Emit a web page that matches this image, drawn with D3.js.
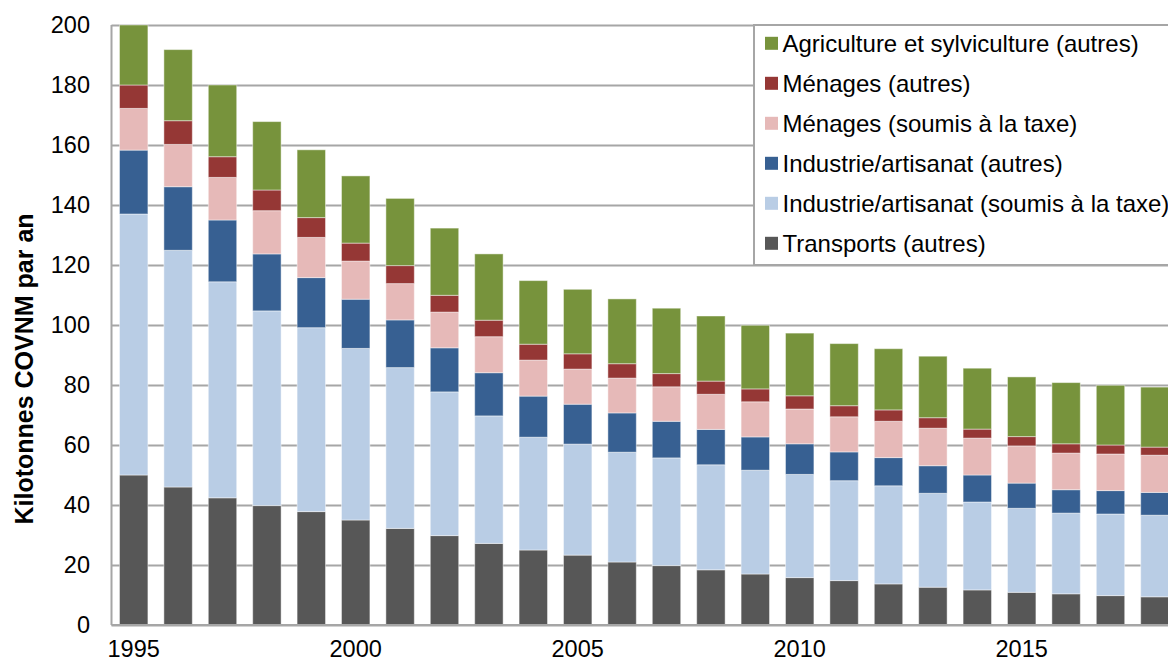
<!DOCTYPE html>
<html>
<head>
<meta charset="utf-8">
<script src="https://cdn.jsdelivr.net/npm/d3@7"></script>
<style>
  html, body { margin: 0; padding: 0; background: #fff; overflow: hidden; }
  svg { display: block; font-family: "Liberation Sans", Arial, sans-serif; }
</style>
</head>
<body>
<svg id="chart"></svg>
<script>
const years = d3.range(1995, 2019);

// kilotonnes COVNM par an, by sector (bottom of the stack first)
const transports = [50, 46, 42.4, 39.8, 37.8, 35, 32.2, 29.8, 27.2, 25, 23.3, 21, 19.8, 18.4, 17, 15.8, 14.8, 13.7, 12.6, 11.7, 10.9, 10.4, 9.8, 9.4];
const industrieTaxe = [87, 78.9, 72, 64.9, 61.3, 57.2, 53.6, 47.9, 42.5, 37.6, 37, 36.6, 35.9, 35, 34.6, 34.4, 33.3, 32.7, 31.3, 29.3, 28, 26.9, 27.2, 27.2];
const industrieAutres = [21.3, 21.2, 20.6, 19, 16.7, 16.4, 15.9, 14.7, 14.4, 13.7, 13.3, 13.1, 12.2, 11.8, 11.1, 10.2, 9.6, 9.4, 9.2, 9, 8.4, 7.8, 7.8, 7.6];
const menagesTaxe = [13.9, 14.1, 14.2, 14.4, 13.4, 12.7, 12.1, 11.9, 12, 12, 11.7, 11.6, 11.5, 11.7, 11.7, 11.6, 11.7, 12.1, 12.5, 12.3, 12.4, 12.2, 12.2, 12.4];
const menagesAutres = [7.8, 7.9, 6.9, 6.9, 6.6, 6, 6, 5.6, 5.5, 5.3, 5.1, 4.8, 4.4, 4.4, 4.3, 4.4, 3.7, 3.8, 3.5, 3, 3.1, 3.1, 3, 2.7];
const agriculture = [20, 23.7, 23.9, 22.8, 22.6, 22.4, 22.4, 22.4, 22.1, 21.2, 21.5, 21.6, 21.8, 21.7, 21.2, 20.9, 20.7, 20.4, 20.5, 20.3, 19.9, 20.4, 19.9, 20];

const seriesNames = [
  "Transports (autres)",
  "Industrie/artisanat (soumis à la taxe)",
  "Industrie/artisanat (autres)",
  "Ménages (soumis à la taxe)",
  "Ménages (autres)",
  "Agriculture et sylviculture (autres)"
];
const seriesValues = [transports, industrieTaxe, industrieAutres, menagesTaxe, menagesAutres, agriculture];
const seriesColors = ["#575757", "#b9cde5", "#376092", "#e6b9b8", "#953735", "#77933c"];

const yTicks = [0, 20, 40, 60, 80, 100, 120, 140, 160, 180, 200];
const xLabelYears = [1995, 2000, 2005, 2010, 2015];
const yTitle = "Kilotonnes COVNM par an";

const W = 1168, H = 663;
const margin = {top: 25, left: 111.5, bottom: 38};
const step = 44.4;

const svg = d3.select("#chart").attr("width", W).attr("height", H);

const x = d3.scaleBand()
  .domain(years)
  .range([margin.left, margin.left + step * years.length])
  .paddingInner(0.36)
  .paddingOuter(0.18);

const y = d3.scaleLinear()
  .domain([0, 200])
  .range([H - margin.bottom, margin.top]);

// gridlines
const grid = svg.append("g")
  .attr("transform", "translate(" + margin.left + ",0)")
  .call(d3.axisLeft(y).tickValues(yTicks).tickSize(-(W - margin.left)).tickFormat(""));
grid.select(".domain").remove();
grid.selectAll("line").attr("stroke", "#a6a6a6").attr("stroke-width", 2);

// y tick labels
svg.append("g").selectAll("text")
  .data(yTicks)
  .enter().append("text")
    .attr("x", 90)
    .attr("y", d => y(d) + 8.3)
    .attr("text-anchor", "end")
    .attr("font-size", 23.5)
    .attr("fill", "#000")
    .text(d => d);

// stacked bars
const table = years.map((yr, i) => {
  const row = {year: yr};
  seriesNames.forEach((n, k) => { row[n] = seriesValues[k][i]; });
  return row;
});
const stacked = d3.stack().keys(seriesNames)(table);

svg.append("g").selectAll("g")
  .data(stacked)
  .enter().append("g")
    .attr("fill", (d, i) => seriesColors[i])
  .selectAll("rect")
  .data(d => d)
  .enter().append("rect")
    .attr("x", d => x(d.data.year))
    .attr("width", x.bandwidth())
    .attr("y", d => y(d[1]))
    .attr("height", d => y(d[0]) - y(d[1]))
    .attr("stroke", "rgba(255,255,255,0.45)")
    .attr("stroke-width", 1);

// axis lines
svg.append("line")
  .attr("x1", margin.left).attr("x2", margin.left)
  .attr("y1", y(200)).attr("y2", y(0))
  .attr("stroke", "#a6a6a6").attr("stroke-width", 2);
svg.append("line")
  .attr("x1", margin.left).attr("x2", W)
  .attr("y1", y(0)).attr("y2", y(0))
  .attr("stroke", "#a6a6a6").attr("stroke-width", 2);

// x labels
svg.append("g").selectAll("text")
  .data(xLabelYears)
  .enter().append("text")
    .attr("x", d => x(d) + x.bandwidth() / 2)
    .attr("y", 657)
    .attr("text-anchor", "middle")
    .attr("font-size", 23.5)
    .attr("fill", "#000")
    .text(d => d);

// y title
svg.append("text")
  .attr("transform", "translate(33,369) rotate(-90)")
  .attr("text-anchor", "middle")
  .attr("font-size", 25)
  .attr("font-weight", "bold")
  .attr("fill", "#000")
  .text(yTitle);

// legend
const legend = svg.append("g").attr("transform", "translate(754,25)");
legend.append("rect")
  .attr("x", 0).attr("y", 0)
  .attr("width", 430).attr("height", 240)
  .attr("fill", "#fff")
  .attr("stroke", "#a6a6a6")
  .attr("stroke-width", 2);

const legendOrder = d3.range(seriesNames.length).reverse();
const items = legend.selectAll(".item")
  .data(legendOrder)
  .enter().append("g")
    .attr("class", "item")
    .attr("transform", (d, i) => "translate(0," + (18.3 + i * 40) + ")");
items.append("rect")
  .attr("x", 11).attr("y", -6.5)
  .attr("width", 13).attr("height", 13)
  .attr("fill", d => seriesColors[d]);
items.append("text")
  .attr("x", 28.5)
  .attr("y", 8.6)
  .attr("font-size", 24)
  .attr("fill", "#000")
  .text(d => seriesNames[d]);
</script>
</body>
</html>
